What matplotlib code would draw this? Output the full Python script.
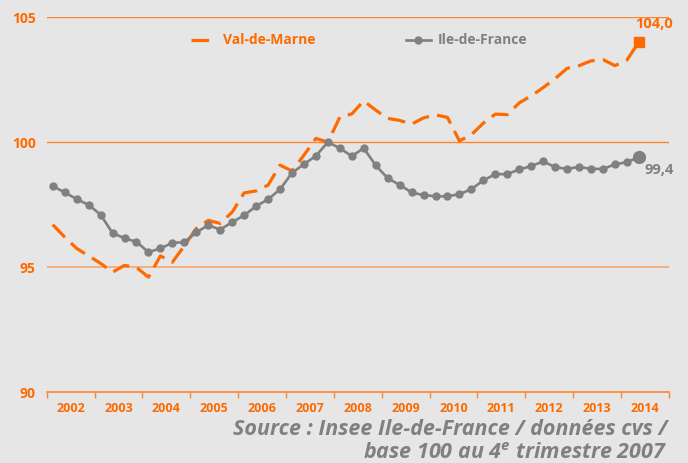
"""Indice trimestriel : Val-de-Marne vs Ile-de-France (base 100 au T4 2007)."""

from matplotlib import pyplot as plt
import numpy as np

years = ['2002', '2003', '2004', '2005', '2006', '2007', '2008',
         '2009', '2010', '2011', '2012', '2013', '2014']

# Quarterly values, 2002 T1 -> 2014 T2.
val_de_marne = [96.7, 96.2, 95.75, 95.45, 95.15, 94.8, 95.07, 94.99, 94.6, 95.45,
                95.2, 95.85, 96.55, 96.87, 96.75, 97.2, 97.97, 98.05, 98.28, 99.08,
                98.85, 99.48, 100.15, 100.0, 101.0, 101.13, 101.65, 101.28, 100.95, 100.87,
                100.72, 100.97, 101.09, 100.99, 100.05, 100.3, 100.76, 101.12, 101.1, 101.57,
                101.85, 102.18, 102.54, 102.95, 103.06, 103.25, 103.3, 103.06, 103.28, 104.0]
ile_de_france = [98.24, 97.99, 97.72, 97.49, 97.1, 96.36, 96.16, 96.01, 95.6, 95.75,
                 95.97, 96.0, 96.39, 96.68, 96.5, 96.8, 97.07, 97.44, 97.71, 98.11,
                 98.77, 99.12, 99.45, 100.0, 99.76, 99.44, 99.76, 99.07, 98.56, 98.29,
                 97.99, 97.88, 97.84, 97.83, 97.92, 98.12, 98.47, 98.72, 98.72, 98.91,
                 99.04, 99.23, 99.0, 98.93, 99.01, 98.93, 98.93, 99.11, 99.2, 99.4]

ORANGE = '#FF6A00'
GRID = '#FF8533'
GRAY = '#808080'
BG = '#E6E6E6'

plt.rcParams['font.family'] = ['Open Sans', 'DejaVu Sans']
plt.rcParams['mathtext.default'] = 'regular'

fig = plt.figure(figsize=(6.88, 4.63), dpi=100, facecolor=BG)
ax = fig.add_axes([0.068, 0.153, 0.904, 0.810])
ax.set_facecolor(BG)

x = np.arange(len(val_de_marne))

# Grid lines (95 is drawn lighter in the original)
ax.axhline(105, color=GRID, lw=1.0, zorder=1)
ax.axhline(100, color=GRID, lw=1.0, zorder=1)
ax.axhline(95, color='#F5AD7A', lw=1.3, zorder=1)

ax.plot(x, val_de_marne, color=ORANGE, lw=2.3, dashes=(5.5, 2.6),
        solid_capstyle='butt', label='Val-de-Marne', zorder=3)
ax.plot(x, ile_de_france, color=GRAY, lw=1.9, marker='o', ms=5,
        label='Ile-de-France', zorder=4)

# End points and labels
ax.plot(x[-1], val_de_marne[-1], marker='s', ms=7, color=ORANGE, zorder=5)
ax.plot(x[-1], ile_de_france[-1], marker='o', ms=8.5, color=GRAY, zorder=5)
ax.annotate('104,0', (x[-1], val_de_marne[-1]), xytext=(-3, 8), textcoords='offset points',
            ha='left', va='bottom', color=ORANGE, fontsize=10.5, fontweight='bold')
ax.annotate('99,4', (x[-1], ile_de_france[-1]), xytext=(4, -4), textcoords='offset points',
            ha='left', va='top', color=GRAY, fontsize=10.5, fontweight='bold')

# Axes
ax.set_xlim(-0.5, 51.5)
ax.set_ylim(90, 105)
ax.set_yticks([90, 95, 100, 105])
ax.tick_params(axis='y', length=0, pad=8, labelcolor=ORANGE, labelsize=10)
for lab in ax.get_yticklabels():
    lab.set_fontweight('bold')

ax.set_xticks(np.arange(len(years)) * 4 + 1.5)
ax.set_xticklabels(years, color=ORANGE, fontsize=9, fontweight='bold')
ax.set_xticks(np.arange(len(years) + 1) * 4 - 0.5, minor=True)
ax.tick_params(axis='x', which='major', length=0, pad=7)
ax.tick_params(axis='x', which='minor', length=4, color=GRID, width=1)

for side in ['left', 'right', 'top']:
    ax.spines[side].set_visible(False)
ax.spines['bottom'].set_color(GRID)
ax.spines['bottom'].set_linewidth(1.2)

leg = ax.legend(loc='upper center', bbox_to_anchor=(0.502, 0.99), ncol=2, frameon=False,
                fontsize=10, handlelength=1.8, columnspacing=6.5, handletextpad=0.5)
for txt, col in zip(leg.get_texts(), [ORANGE, GRAY]):
    txt.set_color(col)
    txt.set_fontweight('bold')

fig.text(0.970, 0.060, 'Source : Insee Ile-de-France / données cvs /', ha='right',
         va='baseline', color=GRAY, fontsize=15.5, style='italic', fontweight='bold')
fig.text(0.970, 0.008, 'base 100 au 4$^{e}$ trimestre 2007', ha='right',
         va='baseline', color=GRAY, fontsize=15.5, style='italic', fontweight='bold')

fig.savefig('out.png', dpi=100, facecolor=BG)
